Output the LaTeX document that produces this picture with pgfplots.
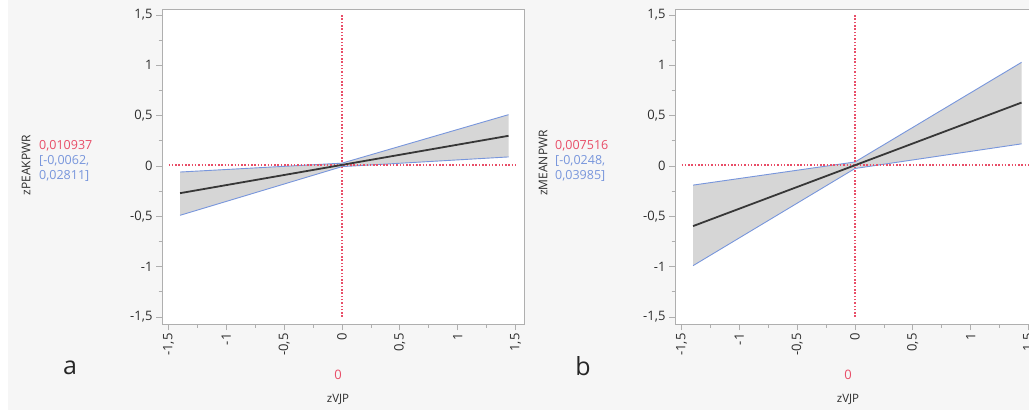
\documentclass[border=0pt]{standalone}
\usepackage{pgfplots}
\pgfplotsset{compat=1.18}
\usepackage{fontspec}
\setmainfont{Open Sans}

\definecolor{bgc}{RGB}{246,246,246}
\definecolor{frm}{RGB}{175,175,175}
\definecolor{tk}{RGB}{45,45,45}
\definecolor{refred}{RGB}{232,78,104}
\definecolor{bandblue}{RGB}{120,150,220}
\definecolor{bandfill}{RGB}{214,214,214}
\definecolor{fitline}{RGB}{55,55,55}

\pgfplotsset{
  prof/.style={
    scale only axis, width=362pt, height=314pt, anchor=south west,
    xmin=-1.5563, xmax=1.5737, ymin=-1.57, ymax=1.55,
    xtick={-1.5,-1,...,1.5}, ytick={-1.5,-1,...,1.5},
    minor tick num=1, tick pos=left, tick align=outside,
    major tick length=6pt, minor tick length=3.5pt,
    tick style={frm, line width=0.7pt},
    axis line style={frm, line width=1pt},
    axis background/.style={fill=white},
    /pgf/number format/use comma, /pgf/number format/assume math mode=true,
    ticklabel style={font=\fontsize{13}{15}\selectfont, text=tk},
    xticklabel style={rotate=90, anchor=east},
    clip=false,
  },
  refl/.style={refred, line width=1.8pt, dash pattern=on 1.5pt off 1.8pt},
  bnd/.style={bandblue, line width=0.9pt},
  fit/.style={fitline, line width=1.8pt},
}

\begin{document}
\begin{tikzpicture}[x=1pt,y=1pt]
\fill[white] (0,0) rectangle (1029,410);
\fill[bgc] (8,0) rectangle (1029,410);

% panel a: zPEAKPWR
\begin{axis}[prof, at={(162pt,86pt)}]
\addplot[fill=bandfill, draw=none] coordinates {
  (-1.40,-0.060) (0,0.0281) (1.44,0.510) (1.44,0.090) (0,-0.0062) (-1.40,-0.490)} --cycle;
\addplot[bnd] coordinates {(-1.40,-0.060) (0,0.0281) (1.44,0.510)};
\addplot[bnd] coordinates {(-1.40,-0.490) (0,-0.0062) (1.44,0.090)};
\addplot[refl] coordinates {(-1.5,0.0109) (1.5,0.0109)};
\addplot[refl] coordinates {(0,-1.5) (0,1.5)};
\addplot[fit] coordinates {(-1.40,-0.270) (0,0.0109) (1.44,0.300)};
\end{axis}

% panel b: zMEANPWR
\begin{axis}[prof, at={(675pt,86pt)}]
\addplot[fill=bandfill, draw=none] coordinates {
  (-1.40,-0.190) (0,0.03985) (1.44,1.030) (1.44,0.220) (0,-0.0248) (-1.40,-0.990)} --cycle;
\addplot[bnd] coordinates {(-1.40,-0.190) (0,0.03985) (1.44,1.030)};
\addplot[bnd] coordinates {(-1.40,-0.990) (0,-0.0248) (1.44,0.220)};
\addplot[refl] coordinates {(-1.5,0.0075) (1.5,0.0075)};
\addplot[refl] coordinates {(0,-1.5) (0,1.5)};
\addplot[fit] coordinates {(-1.40,-0.597) (0,0.0075) (1.44,0.630)};
\end{axis}

% side texts
\node[rotate=90, text=tk, font=\fontsize{12}{14}\selectfont] at (26,245) {zPEAKPWR};
\node[rotate=90, text=tk, font=\fontsize{12}{14}\selectfont] at (543,247) {zMEANPWR};
\begin{scope}[every node/.style={anchor=west, inner sep=0pt, font=\fontsize{12.5}{14}\selectfont}]
\node[text=refred] at (39,264) {0,010937};
\node[text=bandblue] at (39,249) {[-0,0062,};
\node[text=bandblue] at (39,234) {0,02811]};
\node[text=refred] at (555,264) {0,007516};
\node[text=bandblue] at (555,249) {[-0,0248,};
\node[text=bandblue] at (555,234) {0,03985]};
\end{scope}

% x labels
\node[text=refred, font=\fontsize{13}{15}\selectfont] at (338,35) {0};
\node[text=tk, font=\fontsize{11.5}{13}\selectfont] at (338,11) {zVJP};
\node[text=refred, font=\fontsize{13}{15}\selectfont] at (848,35) {0};
\node[text=tk, font=\fontsize{11.5}{13}\selectfont] at (848,11) {zVJP};

% panel letters
\node[font=\fontsize{25}{28}\selectfont, text=black!85] at (70,42) {a};
\node[font=\fontsize{25}{28}\selectfont, text=black!85] at (583,44) {b};

\pgfresetboundingbox
\path[use as bounding box] (0,0) rectangle (1029,410);
\end{tikzpicture}
\end{document}
